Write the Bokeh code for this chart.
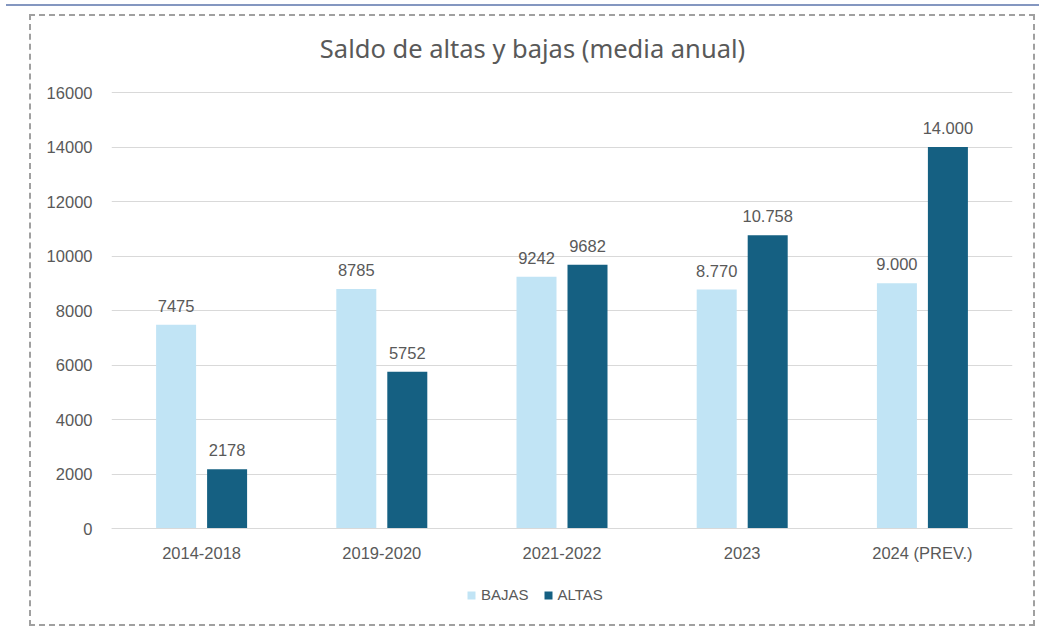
from bokeh.plotting import figure
from bokeh.models import (ColumnDataSource, FixedTicker, Label, Range1d,
                          Legend, LegendItem, LabelSet, InlineStyleSheet)
from bokeh.core.properties import value
from bokeh.transform import dodge
from bokeh.embed import file_html
from bokeh.resources import INLINE

categories = ["2014-2018", "2019-2020", "2021-2022", "2023", "2024 (PREV.)"]
bajas = [7475, 8785, 9242, 8770, 9000]
altas = [2178, 5752, 9682, 10758, 14000]
bajas_labels = ["7475", "8785", "9242", "8.770", "9.000"]
altas_labels = ["2178", "5752", "9682", "10.758", "14.000"]
y_ticks = [0, 2000, 4000, 6000, 8000, 10000, 12000, 14000, 16000]

C_BAJAS = "#c1e4f5"
C_ALTAS = "#156082"
TXT = "#595959"
FONT = "Liberation Sans"

src = ColumnDataSource(dict(cat=categories, bajas=bajas, altas=altas,
                            bl=bajas_labels, al=altas_labels))

# frame spans 20..624 px vertically; value axis 0..16000 occupies 92..528 px
PX_PER_UNIT = 436 / 16000
y_start = -(624 - 528) / PX_PER_UNIT
y_end = 16000 + (92 - 20) / PX_PER_UNIT

p = figure(x_range=categories, y_range=Range1d(y_start, y_end),
           width=1039, height=628, output_backend="svg", toolbar_location=None,
           min_border_left=111, min_border_right=27, min_border_top=20,
           min_border_bottom=4)
p.outline_line_color = None
p.background_fill_color = "white"
p.border_fill_color = "white"

r1 = p.vbar(x=dodge("cat", -0.1415, range=p.x_range), top="bajas", width=0.222,
            source=src, color=C_BAJAS, line_color=None)
r2 = p.vbar(x=dodge("cat", 0.1415, range=p.x_range), top="altas", width=0.222,
            source=src, color=C_ALTAS, line_color=None)

for col, lab, off in (("bajas", "bl", -0.1415), ("altas", "al", 0.1415)):
    ls = LabelSet(x=dodge("cat", off, range=p.x_range), y=col, text=lab, source=src,
                  text_align="center", text_baseline="alphabetic", y_offset=13,
                  text_font=value(FONT), text_font_size="16.5px",
                  text_color=TXT)
    p.add_layout(ls)

p.yaxis.ticker = FixedTicker(ticks=y_ticks)
p.yaxis.axis_line_color = None
p.yaxis.major_tick_line_color = None
p.yaxis.minor_tick_line_color = None
p.yaxis.major_label_text_font = FONT
p.yaxis.major_label_text_font_size = "16.5px"
p.yaxis.major_label_text_color = TXT
p.yaxis.major_label_standoff = 13

p.xaxis.fixed_location = 0
p.xaxis.axis_line_color = "#d9d9d9"
p.xaxis.axis_line_width = 1
p.xaxis.major_tick_line_color = None
p.xaxis.minor_tick_line_color = None
p.xaxis.major_label_text_font = FONT
p.xaxis.major_label_text_font_size = "16.5px"
p.xaxis.major_label_text_color = TXT
p.xaxis.major_label_standoff = 9

p.xgrid.grid_line_color = None
p.ygrid.grid_line_color = "#d9d9d9"
p.ygrid.ticker = FixedTicker(ticks=y_ticks)

p.add_layout(Label(x=(532 - 111) / 180.2, y=16000 + 45 / PX_PER_UNIT,
                   text="Saldo de altas y bajas (media anual)",
                   text_align="center", text_baseline="middle",
                   text_font="Noto Sans", text_font_size="25.5px",
                   text_color=TXT))

legend = Legend(items=[LegendItem(label="BAJAS", renderers=[r1]),
                       LegendItem(label="ALTAS", renderers=[r2])],
                orientation="horizontal", location=(355, 21),
                glyph_width=10, glyph_height=10, label_standoff=5, spacing=14,
                padding=0, margin=0, border_line_color=None,
                background_fill_alpha=0,
                label_text_font=FONT, label_text_font_size="15px",
                label_text_color=TXT)
p.add_layout(legend, "center")

p.stylesheets = [InlineStyleSheet(css="""
:host { position: relative; }
:host::before { content: ""; position: absolute; left: 6px; top: 4px;
  width: 1033px; height: 2px; background: #8497c0; z-index: 10;
  pointer-events: none; }
:host::after { content: ""; position: absolute; left: 29px; top: 14px;
  width: 1006px; height: 612px; border: 2px dashed #a0a0a0;
  box-sizing: border-box; z-index: 10; pointer-events: none; }
""")]

open("out.html", "w").write(file_html(p, INLINE))
